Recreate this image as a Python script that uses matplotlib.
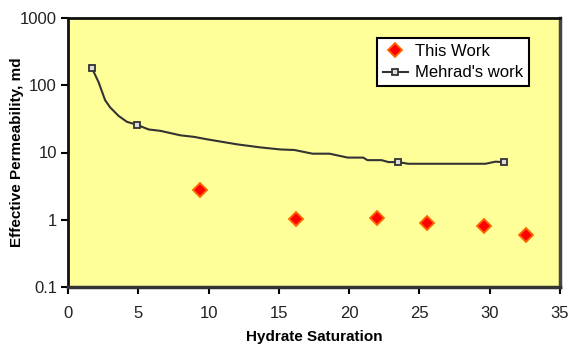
import matplotlib
matplotlib.use("Agg")
import matplotlib.pyplot as plt

plt.rcParams['font.family'] = ['Liberation Sans', 'DejaVu Sans']

# This Work
this_x = [9.36, 16.2, 21.97, 25.57, 29.57, 32.55]
this_y = [2.78, 1.02, 1.08, 0.88, 0.82, 0.59]

# Mehrad's work (line vertices)
mehrad_x = [1.7, 2.17, 2.64, 3.0, 3.6, 4.19, 4.9, 5.74, 6.57, 8.0, 8.95, 9.9,
            12.05, 13.7, 15.1, 16.1, 17.4, 18.6, 19.9, 21.0, 21.3, 22.3, 22.8,
            23.5, 24.2, 29.7, 30.4, 31.0]
mehrad_y = [180, 112, 60, 46.8, 35, 28.6, 25.8, 22, 21, 18, 17.1, 15.7,
            13.2, 11.9, 11.1, 10.9, 9.6, 9.6, 8.4, 8.4, 7.7, 7.7, 7.2,
            7.2, 6.8, 6.8, 7.3, 7.2]
mehrad_markers = [0, 6, 23, 27]

x_ticks = [0, 5, 10, 15, 20, 25, 30, 35]
y_ticks = [0.1, 1, 10, 100, 1000]
y_ticklabels = ["0.1", "1", "10", "100", "1000"]

fig = plt.figure(figsize=(5.71, 3.46), dpi=100)
ax = fig.add_axes([68/571, 1-287/346, (560-68)/571, (287-18)/346])
ax.set_facecolor('#FFFF99')

ax.plot(this_x, this_y, linestyle='none', marker='D', markersize=7,
        markerfacecolor='#FF0000', markeredgecolor='#FF6600', markeredgewidth=1.3,
        label='This Work', zorder=3)
ax.plot(mehrad_x, mehrad_y, color='#333333', linewidth=1.5, marker='s',
        markersize=5, markerfacecolor='#DDDDDD', markeredgecolor='#333333',
        markeredgewidth=1.3, markevery=mehrad_markers, label="Mehrad's work", zorder=2)

ax.set_yscale('log')
ax.set_xlim(0, 35)
ax.set_ylim(0.1, 1000)
ax.set_xticks(x_ticks)
ax.set_xticklabels([str(t) for t in x_ticks])
ax.set_yticks(y_ticks)
ax.set_yticklabels(y_ticklabels)
ax.minorticks_off()
ax.tick_params(axis='both', which='major', direction='out', length=5, width=1.5,
               labelsize=12, colors='black', labelcolor='#222222', pad=3)
ax.tick_params(axis='x', pad=9)

for s in ['left', 'bottom', 'top']:
    ax.spines[s].set_color('#111111')
    ax.spines[s].set_linewidth(2)
ax.spines['right'].set_color('#444444')
ax.spines['right'].set_linewidth(2.5)
ax.spines['bottom'].set_color('#333333')
ax.spines['bottom'].set_linewidth(2.5)

ax.set_xlabel('Hydrate Saturation', fontsize=11, fontweight='bold', labelpad=6)
ax.set_ylabel('Effective Permeability, md', fontsize=11, fontweight='bold')
ax.yaxis.set_label_coords(-0.089, 0.5)

leg = ax.legend(loc='upper left', bbox_to_anchor=(0.628, 0.926), fontsize=12,
                frameon=True, fancybox=False, shadow=False, borderpad=0.35,
                handlelength=1.5, handletextpad=0.45, labelspacing=0.4,
                borderaxespad=0)
leg.get_frame().set_edgecolor('black')
leg.get_frame().set_linewidth(1.5)
leg.get_frame().set_facecolor('white')
leg.get_frame().set_alpha(1)

fig.savefig('out.png', dpi=100, facecolor='white')
